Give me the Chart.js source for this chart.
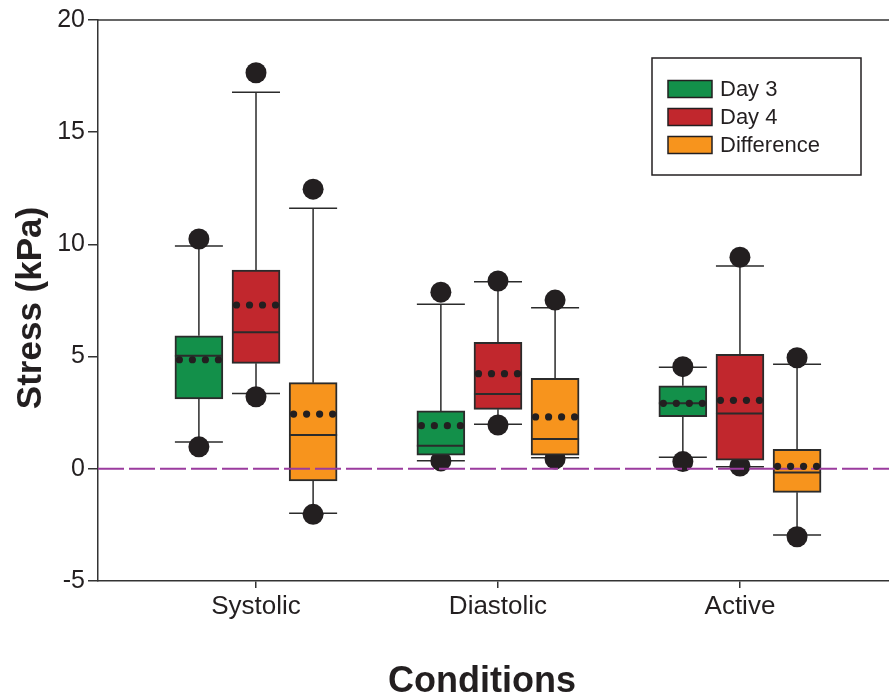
<!DOCTYPE html>
<html>
<head>
<meta charset="utf-8">
<script src="https://cdn.jsdelivr.net/npm/chart.js@4.4.1/dist/chart.umd.min.js"></script>
<style>
  html, body { margin: 0; padding: 0; background: #fff; }
</style>
</head>
<body>
<canvas id="stressChart" width="889" height="700"></canvas>
<script>
const categories = ["Systolic", "Diastolic", "Active"];
const seriesNames = ["Day 3", "Day 4", "Difference"];
const seriesColors = ["#13904a", "#c1272d", "#f7941d"];
const yTicks = [-5, 0, 5, 10, 15, 20];

// one value per condition: Systolic, Diastolic, Active
const day3DotHigh = [10.24, 7.87, 4.55];
const day3WhiskerHigh = [9.93, 7.33, 4.52];
const day3Q3 = [5.93, 2.58, 3.70];
const day3Median = [5.04, 1.03, 2.92];
const day3Mean = [4.86, 1.92, 2.92];
const day3Q1 = [3.11, 0.61, 2.32];
const day3WhiskerLow = [1.19, 0.36, 0.51];
const day3DotLow = [0.98, 0.35, 0.32];

const day4DotHigh = [17.65, 8.37, 9.43];
const day4WhiskerHigh = [16.78, 8.34, 9.04];
const day4Q3 = [8.86, 5.64, 5.10];
const day4Median = [6.08, 3.33, 2.46];
const day4Mean = [7.30, 4.24, 3.05];
const day4Q1 = [4.70, 2.65, 0.39];
const day4WhiskerLow = [3.36, 1.98, 0.09];
const day4DotLow = [3.21, 1.95, 0.12];

const diffDotHigh = [12.46, 7.52, 4.95];
const diffWhiskerHigh = [11.61, 7.18, 4.66];
const diffQ3 = [3.84, 4.03, 0.87];
const diffMedian = [1.51, 1.33, -0.17];
const diffMean = [2.44, 2.31, 0.11];
const diffQ1 = [-0.54, 0.61, -1.05];
const diffWhiskerLow = [-1.98, 0.49, -2.95];
const diffDotLow = [-2.03, 0.44, -3.03];

const stats = [
    { dotHigh: day3DotHigh, hi: day3WhiskerHigh, q3: day3Q3, median: day3Median, mean: day3Mean, q1: day3Q1, lo: day3WhiskerLow, dotLow: day3DotLow },
    { dotHigh: day4DotHigh, hi: day4WhiskerHigh, q3: day4Q3, median: day4Median, mean: day4Mean, q1: day4Q1, lo: day4WhiskerLow, dotLow: day4DotLow },
    { dotHigh: diffDotHigh, hi: diffWhiskerHigh, q3: diffQ3, median: diffMedian, mean: diffMean, q1: diffQ1, lo: diffWhiskerLow, dotLow: diffDotLow }
];

const groupOffset = [-0.236, 0, 0.236];
const xMin = 0.347, xMax = 3.616;
const boxWidth = 48;
const inkColor = "#231f20";
const fontFamily = "'Liberation Sans', Arial, sans-serif";

function xPos(s, i) {
    return i + 1 + groupOffset[s];
}

const datasets = [];

// zero reference line
datasets.push({
    type: "line",
    data: [{ x: xMin, y: 0 }, { x: xMax, y: 0 }],
    borderColor: "#9b3b9e",
    borderWidth: 2,
    borderDash: [26, 5],
    pointRadius: 0,
    order: 0
});

stats.forEach((st, s) => {
    datasets.push({
        type: "bar",
        label: seriesNames[s],
        data: categories.map((c, i) => ({ x: xPos(s, i), y: [st.q1[i], st.q3[i]] })),
        backgroundColor: seriesColors[s],
        borderColor: "#2b2b2b",
        borderWidth: 2,
        borderSkipped: false,
        barThickness: boxWidth,
        grouped: false,
        order: 1
    });
    const dots = [];
    categories.forEach((c, i) => {
        dots.push({ x: xPos(s, i), y: st.dotHigh[i] });
        dots.push({ x: xPos(s, i), y: st.dotLow[i] });
    });
    datasets.push({
        type: "scatter",
        data: dots,
        backgroundColor: inkColor,
        borderWidth: 0,
        pointRadius: 10.5,
        order: 2
    });
});

const boxParts = {
    id: "boxParts",
    beforeDatasetsDraw(chart) {
        const ctx = chart.ctx, xs = chart.scales.x, ys = chart.scales.y;
        const area = chart.chartArea;
        ctx.save();
        // top frame line
        ctx.strokeStyle = "#333";
        ctx.lineWidth = 1.5;
        ctx.beginPath();
        ctx.moveTo(area.left, area.top);
        ctx.lineTo(chart.width, area.top);
        ctx.stroke();
        // whiskers and caps
        ctx.strokeStyle = "#2b2b2b";
        ctx.lineWidth = 1.5;
        stats.forEach((st, s) => {
            categories.forEach((c, i) => {
                const x = xs.getPixelForValue(xPos(s, i));
                const yHi = ys.getPixelForValue(st.hi[i]);
                const yLo = ys.getPixelForValue(st.lo[i]);
                ctx.beginPath();
                ctx.moveTo(x, yHi);
                ctx.lineTo(x, ys.getPixelForValue(st.q3[i]));
                ctx.moveTo(x, ys.getPixelForValue(st.q1[i]));
                ctx.lineTo(x, yLo);
                ctx.moveTo(x - boxWidth / 2, yHi);
                ctx.lineTo(x + boxWidth / 2, yHi);
                ctx.moveTo(x - boxWidth / 2, yLo);
                ctx.lineTo(x + boxWidth / 2, yLo);
                ctx.stroke();
            });
        });
        ctx.restore();
    },
    afterDatasetsDraw(chart) {
        const ctx = chart.ctx, xs = chart.scales.x, ys = chart.scales.y;
        ctx.save();
        stats.forEach((st, s) => {
            categories.forEach((c, i) => {
                const x = xs.getPixelForValue(xPos(s, i));
                // median
                const yMed = ys.getPixelForValue(st.median[i]);
                ctx.strokeStyle = "#2b2b2b";
                ctx.lineWidth = 2;
                ctx.beginPath();
                ctx.moveTo(x - boxWidth / 2, yMed);
                ctx.lineTo(x + boxWidth / 2, yMed);
                ctx.stroke();
                // mean as a dotted line
                const yMean = ys.getPixelForValue(st.mean[i]);
                ctx.fillStyle = inkColor;
                [-19.5, -6.5, 6.5, 19.5].forEach(dx => {
                    ctx.beginPath();
                    ctx.arc(x + dx, yMean, 3.6, 0, Math.PI * 2);
                    ctx.fill();
                });
            });
        });
        ctx.restore();
    },
    afterDraw(chart) {
        const ctx = chart.ctx;
        ctx.save();
        // axis titles
        ctx.fillStyle = inkColor;
        ctx.font = "bold 36px " + fontFamily;
        ctx.textAlign = "center";
        ctx.textBaseline = "middle";
        ctx.fillText("Conditions", 482, 682);
        ctx.font = "bold 35px " + fontFamily;
        ctx.translate(31, 308);
        ctx.rotate(-Math.PI / 2);
        ctx.fillText("Stress (kPa)", 0, 0);
        ctx.setTransform(1, 0, 0, 1, 0, 0);
        // legend
        ctx.strokeStyle = inkColor;
        ctx.lineWidth = 1.5;
        ctx.strokeRect(652, 58, 209, 117);
        ctx.font = "22px " + fontFamily;
        ctx.textAlign = "left";
        seriesNames.forEach((name, s) => {
            const y = 89 + s * 28;
            ctx.fillStyle = seriesColors[s];
            ctx.fillRect(668, y - 8.5, 44, 17);
            ctx.strokeRect(668, y - 8.5, 44, 17);
            ctx.fillStyle = inkColor;
            ctx.fillText(name, 720, y + 1);
        });
        ctx.restore();
    }
};

new Chart(document.getElementById("stressChart"), {
    type: "bar",
    data: { datasets: datasets },
    options: {
        responsive: false,
        animation: false,
        devicePixelRatio: 1,
        layout: { autoPadding: false, padding: { top: 20, left: 0, right: 0, bottom: 0 } },
        plugins: { legend: { display: false }, tooltip: { enabled: false } },
        scales: {
            x: {
                type: "linear",
                min: xMin,
                max: xMax,
                offset: false,
                afterBuildTicks: scale => { scale.ticks = categories.map((c, i) => ({ value: i + 1 })); },
                afterFit: scale => { scale.height = 119; },
                ticks: {
                    callback: v => categories[v - 1] || "",
                    font: { size: 26, family: fontFamily },
                    color: inkColor,
                    padding: 3,
                    maxRotation: 0,
                    autoSkip: false
                },
                grid: { offset: false, drawOnChartArea: false, tickLength: 7, color: "#333", lineWidth: 1.5 },
                border: { color: "#333", width: 1.5 }
            },
            y: {
                min: yTicks[0],
                max: yTicks[yTicks.length - 1],
                afterBuildTicks: scale => { scale.ticks = yTicks.map(v => ({ value: v })); },
                afterFit: scale => { scale.width = 98; },
                ticks: {
                    font: { size: 25, family: fontFamily },
                    color: inkColor,
                    padding: 3
                },
                grid: { drawOnChartArea: false, tickLength: 10, color: "#333", lineWidth: 1.5 },
                border: { color: "#333", width: 1.5 }
            }
        }
    },
    plugins: [boxParts]
});
</script>
</body>
</html>
